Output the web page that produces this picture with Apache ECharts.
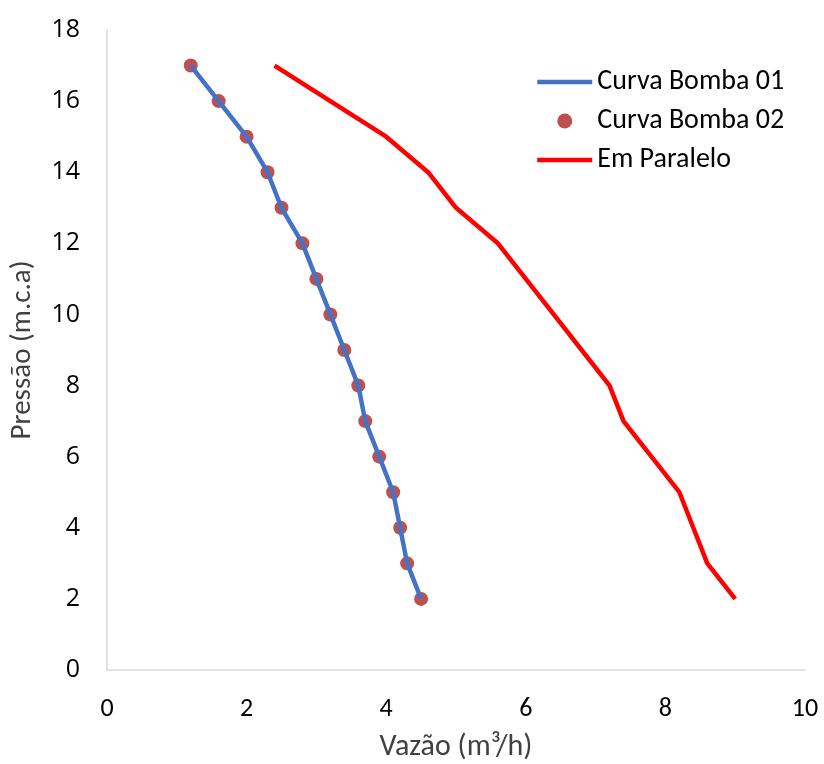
<!DOCTYPE html>
<html>
	<head>
		<meta charset="utf-8">
		<title>Curvas das bombas</title>
		<style>
			html, body { margin: 0; padding: 0; background: #fff; }
			#main { width: 824px; height: 764px; }
		</style>
	</head>
	<body>
		<div id="main"></div>
	</body>
	<script src="https://cdn.jsdelivr.net/npm/echarts@6/dist/echarts.min.js"></script>
	<script>
		// dados
		var pressao = [17, 16, 15, 14, 13, 12, 11, 10, 9, 8, 7, 6, 5, 4, 3, 2]
		var vazaoBomba01 = [1.2, 1.6, 2, 2.3, 2.5, 2.8, 3, 3.2, 3.4, 3.6, 3.7, 3.9, 4.1, 4.2, 4.3, 4.5]
		var vazaoBomba02 = [1.2, 1.6, 2, 2.3, 2.5, 2.8, 3, 3.2, 3.4, 3.6, 3.7, 3.9, 4.1, 4.2, 4.3, 4.5]
		var vazaoParalelo = [2.4, 3.2, 4, 4.6, 5, 5.6, 6, 6.4, 6.8, 7.2, 7.4, 7.8, 8.2, 8.4, 8.6, 9]

		function pares(xs, ys) {
			var arr = []
			for (var i = 0; i < xs.length; i++) {
				arr.push([xs[i], ys[i]])
			}
			return arr
		}

		var fonte = '"Open Sans", "Noto Sans", sans-serif'
		var fonteEstreita = 'Carlito, "Liberation Sans Narrow", "Open Sans", sans-serif'
		// esconde o simbolo no icone da legenda das linhas
		var semSimbolo = { color: 'rgba(0,0,0,0)', borderWidth: 0 }

		var myChart = echarts.init(document.getElementById('main'))
		var option = {
			animation: false,
			grid: { left: 107, right: 19, top: 30, bottom: 94, containLabel: false, outerBoundsMode: 'none' },
			legend: {
				orient: 'vertical',
				left: 535,
				top: 68,
				padding: 0,
				itemWidth: 55,
				itemHeight: 15,
				itemGap: 11,
				textStyle: { fontSize: 28, color: '#000', fontFamily: fonteEstreita },
				data: [
					{ name: 'Curva Bomba 01', itemStyle: semSimbolo, lineStyle: { color: '#4472C4', width: 4.5 } },
					{ name: 'Curva Bomba 02', icon: 'circle' },
					{ name: 'Em Paralelo', itemStyle: semSimbolo, lineStyle: { color: '#FF0000', width: 4.5 } }
				]
			},
			xAxis: {
				type: 'value',
				min: 0,
				max: 10,
				interval: 2,
				name: 'Vazão (m³/h)',
				nameLocation: 'middle',
				nameGap: 62,
				nameTextStyle: { fontSize: 30, color: '#404040', fontFamily: fonteEstreita },
				axisLine: { show: true, lineStyle: { color: '#d9d9d9', width: 1.5 } },
				axisTick: { show: false },
				splitLine: { show: false },
				axisLabel: { fontSize: 26, color: '#000', margin: 26, fontFamily: fonteEstreita }
			},
			yAxis: {
				type: 'value',
				min: 0,
				max: 18,
				interval: 2,
				name: 'Pressão (m.c.a)',
				nameLocation: 'middle',
				nameGap: 70,
				nameTextStyle: { fontSize: 29, color: '#404040', fontFamily: fonteEstreita },
				axisLine: { show: true, lineStyle: { color: '#d9d9d9', width: 1.5 } },
				axisTick: { show: false },
				splitLine: { show: false },
				axisLabel: { fontSize: 25, color: '#000', margin: 27, fontFamily: fonte }
			},
			series: [
				{
					name: 'Curva Bomba 01',
					type: 'line',
					data: pares(vazaoBomba01, pressao),
					showSymbol: false,
					symbol: 'none',
					lineStyle: { color: '#4472C4', width: 4.5 },
					itemStyle: { color: '#4472C4' }
				},
				{
					name: 'Curva Bomba 02',
					type: 'scatter',
					data: pares(vazaoBomba02, pressao),
					symbol: 'circle',
					symbolSize: 14,
					itemStyle: { color: '#C0504D', opacity: 1 }
				},
				{
					name: 'Em Paralelo',
					type: 'line',
					data: pares(vazaoParalelo, pressao),
					showSymbol: false,
					symbol: 'none',
					lineStyle: { color: '#FF0000', width: 4.5 },
					itemStyle: { color: '#FF0000' }
				}
			]
		}
		myChart.setOption(option)
	</script>
</html>
